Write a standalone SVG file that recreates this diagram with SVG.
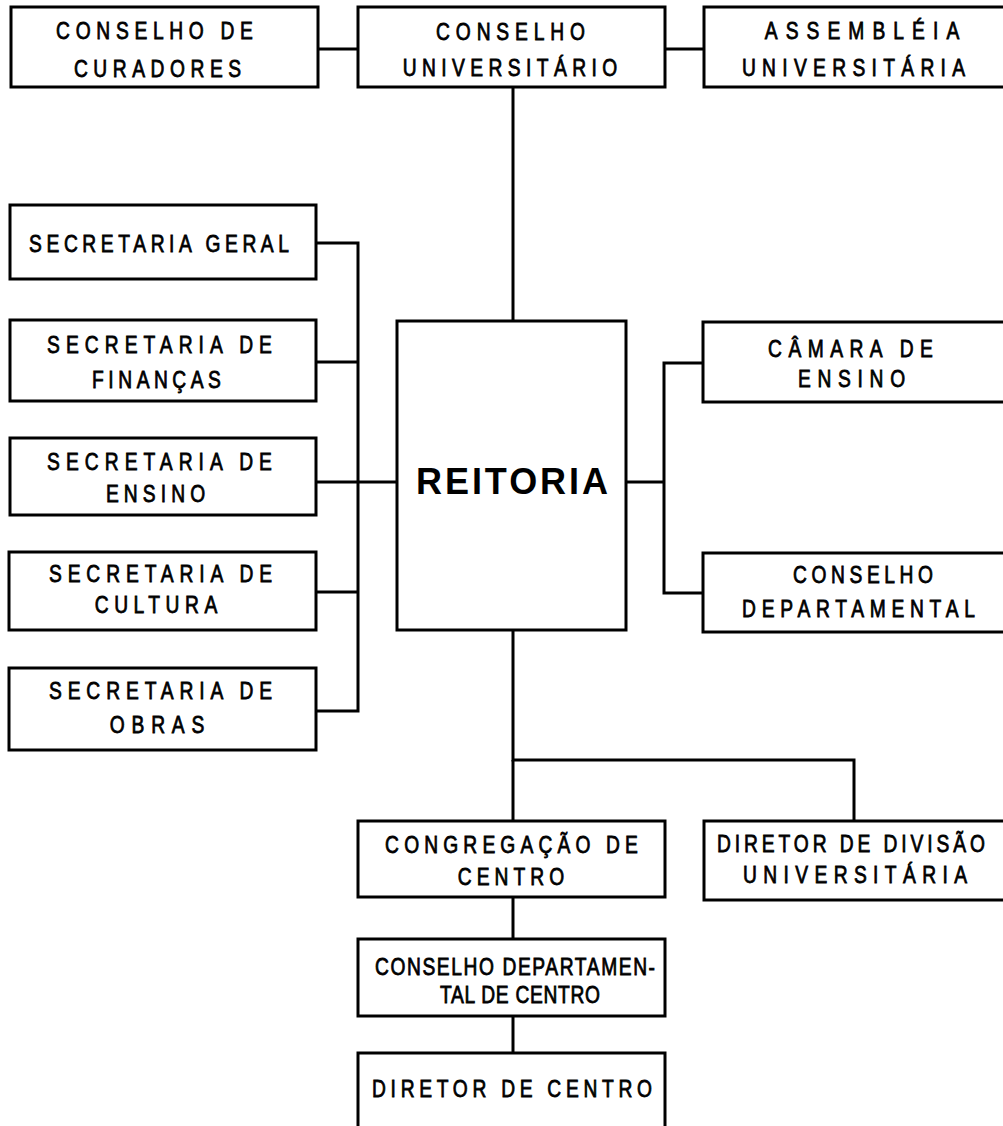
<svg xmlns="http://www.w3.org/2000/svg" width="1003" height="1126" viewBox="0 0 1003 1126">
  <style>
    .box { fill: #fff; stroke: #000; stroke-width: 3; }
    .wire { fill: none; stroke: #000; stroke-width: 3; stroke-linejoin: miter; }
    .lbl { font-family: "Liberation Sans", Arial, sans-serif; font-size: 24px; fill: #000; stroke: #000; stroke-width: 0.8; text-anchor: middle; }
    .big { font-family: "Liberation Sans", Arial, sans-serif; font-size: 36px; font-weight: bold; fill: #000; text-anchor: middle; }
  </style>
  <rect width="1003" height="1126" fill="#fff"/>

  <!-- connectors -->
  <g id="connectors">
    <path class="wire" d="M318 49 H358"/>
    <path class="wire" d="M665 49 H704"/>
    <path class="wire" d="M513 87 V321"/>
    <path class="wire" d="M316 243 H358 V711 H316"/>
    <path class="wire" d="M316 362 H358"/>
    <path class="wire" d="M316 592 H358"/>
    <path class="wire" d="M316 482 H397"/>
    <path class="wire" d="M626 482 H664"/>
    <path class="wire" d="M703 363 H664 V593 H703"/>
    <path class="wire" d="M513 630 V760 H854 V821"/>
    <path class="wire" d="M513 760 V821"/>
    <path class="wire" d="M513 897 V939"/>
    <path class="wire" d="M513 1016 V1053"/>
  </g>

  <!-- top row -->
  <g id="conselho-curadores">
    <rect class="box" x="11" y="7" width="307" height="80"/>
    <text class="lbl" transform="translate(154.5,39) scale(0.8,1)" textLength="246" lengthAdjust="spacing">CONSELHO DE</text>
    <text class="lbl" transform="translate(157.5,77) scale(0.8,1)" textLength="209" lengthAdjust="spacing">CURADORES</text>
  </g>
  <g id="conselho-universitario">
    <rect class="box" x="358" y="7" width="307" height="80"/>
    <text class="lbl" transform="translate(510.5,40) scale(0.8,1)" textLength="186" lengthAdjust="spacing">CONSELHO</text>
    <text class="lbl" transform="translate(510,76) scale(0.8,1)" textLength="268" lengthAdjust="spacing">UNIVERSITÁRIO</text>
  </g>
  <g id="assembleia-universitaria">
    <rect class="box" x="704" y="7" width="306" height="80"/>
    <text class="lbl" transform="translate(862,39) scale(0.8,1)" textLength="243" lengthAdjust="spacing">ASSEMBLÉIA</text>
    <text class="lbl" transform="translate(853.5,76) scale(0.8,1)" textLength="279" lengthAdjust="spacing">UNIVERSITÁRIA</text>
  </g>

  <!-- secretarias -->
  <g id="secretaria-geral">
    <rect class="box" x="10" y="205" width="306" height="74"/>
    <text class="lbl" transform="translate(159,252) scale(0.8,1)" textLength="325" lengthAdjust="spacing">SECRETARIA GERAL</text>
  </g>
  <g id="secretaria-financas">
    <rect class="box" x="10" y="320" width="306" height="81"/>
    <text class="lbl" transform="translate(159.5,353) scale(0.8,1)" textLength="281" lengthAdjust="spacing">SECRETARIA DE</text>
    <text class="lbl" transform="translate(156.5,388) scale(0.8,1)" textLength="161" lengthAdjust="spacing">FINANÇAS</text>
  </g>
  <g id="secretaria-ensino">
    <rect class="box" x="10" y="438" width="306" height="77"/>
    <text class="lbl" transform="translate(159.5,470) scale(0.8,1)" textLength="281" lengthAdjust="spacing">SECRETARIA DE</text>
    <text class="lbl" transform="translate(155.5,502) scale(0.8,1)" textLength="124" lengthAdjust="spacing">ENSINO</text>
  </g>
  <g id="secretaria-cultura">
    <rect class="box" x="9" y="552" width="307" height="78"/>
    <text class="lbl" transform="translate(160.5,582) scale(0.8,1)" textLength="279" lengthAdjust="spacing">SECRETARIA DE</text>
    <text class="lbl" transform="translate(156,613) scale(0.8,1)" textLength="153" lengthAdjust="spacing">CULTURA</text>
  </g>
  <g id="secretaria-obras">
    <rect class="box" x="9" y="668" width="307" height="82"/>
    <text class="lbl" transform="translate(160.5,699) scale(0.8,1)" textLength="279" lengthAdjust="spacing">SECRETARIA DE</text>
    <text class="lbl" transform="translate(157,733) scale(0.8,1)" textLength="118" lengthAdjust="spacing">OBRAS</text>
  </g>

  <!-- central node -->
  <g id="reitoria">
    <rect class="box" x="397" y="321" width="229" height="309"/>
    <text class="big" x="512" y="494" textLength="192" lengthAdjust="spacing">REITORIA</text>
  </g>

  <!-- right side -->
  <g id="camara-ensino">
    <rect class="box" x="703" y="322" width="307" height="80"/>
    <text class="lbl" transform="translate(850.5,357) scale(0.8,1)" textLength="206" lengthAdjust="spacing">CÂMARA DE</text>
    <text class="lbl" transform="translate(851.5,387) scale(0.8,1)" textLength="134" lengthAdjust="spacing">ENSINO</text>
  </g>
  <g id="conselho-departamental">
    <rect class="box" x="703" y="553" width="307" height="79"/>
    <text class="lbl" transform="translate(863,583) scale(0.8,1)" textLength="175" lengthAdjust="spacing">CONSELHO</text>
    <text class="lbl" transform="translate(858.5,617) scale(0.8,1)" textLength="291" lengthAdjust="spacing">DEPARTAMENTAL</text>
  </g>

  <!-- lower branch -->
  <g id="congregacao-centro">
    <rect class="box" x="358" y="821" width="307" height="76"/>
    <text class="lbl" transform="translate(511.5,853) scale(0.8,1)" textLength="316" lengthAdjust="spacing">CONGREGAÇÃO DE</text>
    <text class="lbl" transform="translate(511,885) scale(0.8,1)" textLength="133" lengthAdjust="spacing">CENTRO</text>
  </g>
  <g id="diretor-divisao">
    <rect class="box" x="704" y="821" width="306" height="79"/>
    <text class="lbl" transform="translate(851,852) scale(0.8,1)" textLength="335" lengthAdjust="spacing">DIRETOR DE DIVISÃO</text>
    <text class="lbl" transform="translate(855,883) scale(0.8,1)" textLength="280" lengthAdjust="spacing">UNIVERSITÁRIA</text>
  </g>
  <g id="conselho-departamental-centro">
    <rect class="box" x="358" y="939" width="307" height="77"/>
    <text class="lbl" transform="translate(515,975) scale(0.8,1)" textLength="350" lengthAdjust="spacing">CONSELHO DEPARTAMEN-</text>
    <text class="lbl" transform="translate(520,1003) scale(0.8,1)" textLength="200" lengthAdjust="spacing">TAL DE CENTRO</text>
  </g>
  <g id="diretor-centro">
    <rect class="box" x="358" y="1053" width="307" height="90"/>
    <text class="lbl" transform="translate(512,1097) scale(0.8,1)" textLength="350" lengthAdjust="spacing">DIRETOR DE CENTRO</text>
  </g>
</svg>
